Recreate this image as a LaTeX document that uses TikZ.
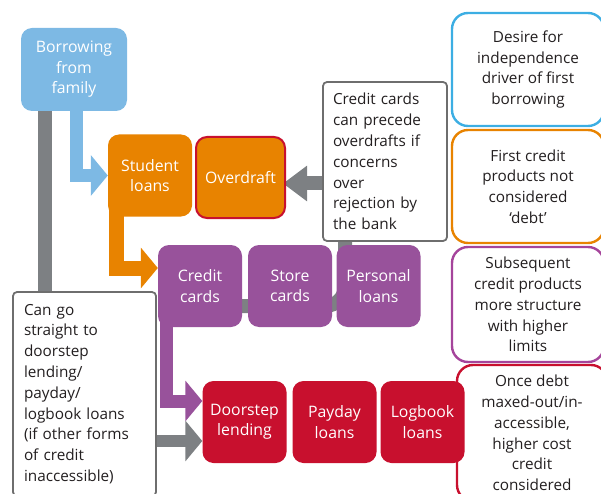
\documentclass[tikz,border=0pt]{standalone}
\usepackage{fontspec}
\setmainfont{Open Sans}
\usetikzlibrary{arrows.meta,backgrounds}

\definecolor{famblue}{RGB}{125,185,228}
\definecolor{skyline}{RGB}{60,174,227}
\definecolor{loanorange}{RGB}{232,131,0}
\definecolor{cardpurple}{RGB}{152,82,155}
\definecolor{stagepurple}{RGB}{165,68,155}
\definecolor{debtred}{RGB}{200,16,46}
\definecolor{arrowgray}{RGB}{125,128,131}
\definecolor{notegray}{RGB}{110,110,110}
\definecolor{inktext}{RGB}{35,31,32}

\begin{document}
\begin{tikzpicture}[x=1pt,y=-1pt,
		every node/.style={font=\fontsize{15.3}{20.8}\selectfont},
		product/.style={rounded corners=11pt,text=white,align=center,minimum width=84pt,minimum height=82pt,inner sep=0pt,font=\fontsize{15.8}{20.4}\selectfont},
		remark/.style={draw=notegray,line width=1.8pt,fill=white,rounded corners=4pt,align=left,text=inktext,inner sep=10pt},
		stage/.style={draw=#1,line width=2.4pt,fill=white,rounded corners=16pt,align=center,text=inktext,minimum width=152pt,minimum height=113pt},
		thickbar/.style={draw=#1,line width=14pt},
		flow/.style={draw=#1,-{Triangle[length=17pt,width=40pt]}}]
	\useasboundingbox (0,0) rectangle (601,494);

	\node[stage=skyline] (desire) at (528,69.5) {Desire for\\independence\\driver of first\\borrowing};
	\node[stage=loanorange] (notdebt) at (528,186.5) {First credit\\products not\\considered\\‘debt’};
	\node[stage=stagepurple,minimum height=115pt] (structure) at (528,304.5) {Subsequent\\credit products\\more structure\\with higher\\limits};
	\node[stage=debtred,minimum width=150pt,minimum height=136pt] (highcost) at (532,433) {Once debt\\maxed-out/in-\\accessible,\\higher cost\\credit\\considered};

	\node[product,fill=famblue,minimum width=106pt,minimum height=83pt] (borrow) at (74,69.5) {Borrowing\\from\\family};
	\node[product,fill=loanorange] (student) at (150,175.5) {Student\\loans};
	\node[product,fill=loanorange,draw=debtred,line width=2pt,minimum width=89pt,minimum height=81pt] (overdraft) at (240.5,177.5) {Overdraft};

	\node[product,fill=cardpurple] (credit) at (200,286) {Credit\\cards};
	\node[product,fill=cardpurple] (store) at (290,286) {Store\\cards};
	\node[product,fill=cardpurple] (personal) at (378.5,286) {Personal\\loans};

	\node[product,fill=debtred] (door) at (244.5,422) {Doorstep\\lending};
	\node[product,fill=debtred] (payday) at (334.5,422) {Payday\\loans};
	\node[product,fill=debtred] (logbook) at (422.5,422) {Logbook\\loans};

	\node[remark,text width=104pt,minimum height=159pt] (precede) at (385,161.5) {Credit cards\\can precede\\overdrafts if\\concerns\\over\\rejection by\\the bank};
	\node[remark,text width=121pt,inner xsep=11pt,minimum height=204pt] (straight) at (84.5,394) {Can go\\straight to\\doorstep\\lending/\\payday/\\logbook loans\\(if other forms\\of credit\\inaccessible)};

	\coordinate (famline) at ([xshift=-29pt]borrow.center);
	\coordinate (cardlink) at ([yshift=-20pt]credit.center);
	\coordinate (warn) at ([yshift=-22pt]precede.west);
	\coordinate (lowtip) at ([yshift=-19pt]door.west);

	\begin{scope}[on background layer]
		\draw[thickbar=arrowgray] (famline) -- (famline |- straight.north);
		\draw[thickbar=arrowgray,rounded corners=20pt] ([xshift=-40pt]precede.center) |- (cardlink);
		\draw[flow=famblue,line width=13pt] ([xshift=2.5pt]borrow.center) |- (student.west);
		\draw[flow=loanorange,line width=15pt] ([xshift=-34pt]student.center) |- ([yshift=18pt]credit.west);
		\draw[flow=cardpurple,line width=13pt] ([xshift=-34pt]credit.center) |- ([yshift=21pt]door.west);
		\draw[flow=arrowgray,line width=12pt] (straight.east |- lowtip) -- (lowtip);
		\draw[draw=arrowgray,line width=14pt,-{Triangle[length=24pt,width=34pt]},shorten >=-3pt] (warn) -- (warn -| overdraft.east);
	\end{scope}
\end{tikzpicture}
\end{document}
